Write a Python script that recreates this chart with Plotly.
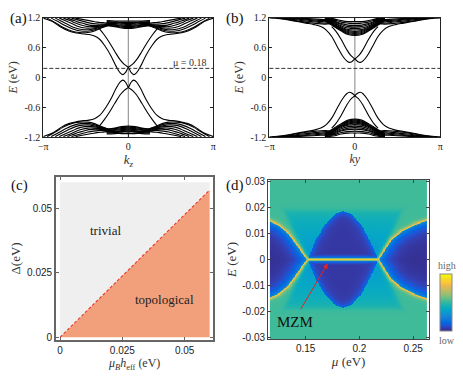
import numpy as np
import plotly.graph_objects as go

PI = float(np.pi)

# ---------------- panel (a): read band points (upper half; mirrored in k and E) -------------
A_BAND_K = [-1.10, -0.90, -0.70, -0.50, -0.30, -0.15, 0.00, 0.10, 0.20, 0.30, 0.45, 0.65,
            0.85, 1.05, 1.25, 1.45, 1.65, 1.90, 2.20, 2.50, 2.80, PI]
A_BAND_E = [1.00, 0.86, 0.70, 0.52, 0.35, 0.26, 0.20, 0.10, 0.055, 0.09, 0.22, 0.44,
            0.62, 0.76, 0.83, 0.86, 0.87, 0.89, 0.93, 1.01, 1.12, 1.19]
A_FAN_K = [
    [3.00, 2.70, 2.40, 2.10, 1.80, 1.50, 1.25, 1.00, 0.75],
    [2.85, 2.60, 2.30, 2.00, 1.75, 1.45, 1.20, 0.95, 0.70],
    [2.70, 2.45, 2.20, 1.95, 1.70, 1.40, 1.15, 0.90, 0.65],
    [2.55, 2.30, 2.05, 1.85, 1.60, 1.35, 1.10, 0.85, 0.60],
    [2.40, 2.15, 1.95, 1.75, 1.50, 1.30, 1.05, 0.80, 0.55],
    [2.25, 2.05, 1.85, 1.65, 1.45, 1.20, 1.00, 0.75, 0.50],
    [2.10, 1.90, 1.70, 1.50, 1.30, 1.10, 0.90, 0.70, 0.45],
    [1.95, 1.75, 1.55, 1.35, 1.15, 0.95, 0.75, 0.55, 0.40],
]
A_FAN_E = [
    [1.19, 1.10, 1.00, 0.93, 0.90, 0.90, 0.93, 0.99, 1.04],
    [1.19, 1.12, 1.03, 0.96, 0.93, 0.93, 0.96, 1.01, 1.05],
    [1.19, 1.12, 1.05, 0.99, 0.96, 0.96, 0.99, 1.03, 1.06],
    [1.19, 1.13, 1.07, 1.02, 0.99, 0.99, 1.01, 1.04, 1.07],
    [1.19, 1.14, 1.09, 1.05, 1.02, 1.02, 1.03, 1.06, 1.08],
    [1.19, 1.15, 1.11, 1.08, 1.05, 1.04, 1.05, 1.07, 1.09],
    [1.19, 1.16, 1.13, 1.10, 1.08, 1.07, 1.07, 1.08, 1.10],
    [1.19, 1.17, 1.15, 1.13, 1.11, 1.10, 1.09, 1.10, 1.11],
]
A_DENSE_K = [0.0, 0.25, 0.50, 0.80]
A_DENSE_E = [
    [0.98, 0.99, 1.02, 1.04],
    [1.00, 1.01, 1.03, 1.05],
    [1.02, 1.03, 1.05, 1.07],
    [1.04, 1.05, 1.06, 1.08],
    [1.06, 1.07, 1.08, 1.09],
    [1.08, 1.09, 1.09, 1.10],
    [1.10, 1.10, 1.11, 1.12],
    [1.13, 1.13, 1.13, 1.14],
]
MU_LINE = 0.18

# ---------------- panel (b) -------------
B_BAND_K = [-0.85, -0.70, -0.50, -0.30, -0.15, 0.00, 0.10, 0.20, 0.30, 0.45, 0.65, 0.85,
            1.05, 1.25, 1.50, 1.80, 2.20, 2.60, 3.00, PI]
B_BAND_E = [1.02, 0.93, 0.76, 0.56, 0.44, 0.37, 0.32, 0.30, 0.33, 0.43, 0.62, 0.82,
            0.95, 1.02, 1.06, 1.09, 1.13, 1.17, 1.19, 1.195]
B_FAN_K = [
    [2.90, 2.50, 2.10, 1.70, 1.40, 1.10, 0.85],
    [2.75, 2.35, 1.95, 1.60, 1.30, 1.05, 0.80],
    [2.60, 2.20, 1.85, 1.50, 1.20, 0.95, 0.75],
    [2.45, 2.05, 1.70, 1.40, 1.10, 0.90, 0.70],
    [2.30, 1.90, 1.55, 1.25, 1.00, 0.80, 0.65],
]
B_FAN_E = [
    [1.195, 1.17, 1.13, 1.10, 1.08, 1.07, 1.08],
    [1.195, 1.17, 1.14, 1.12, 1.10, 1.09, 1.10],
    [1.195, 1.175, 1.155, 1.135, 1.12, 1.11, 1.12],
    [1.195, 1.18, 1.165, 1.15, 1.14, 1.13, 1.14],
    [1.195, 1.185, 1.175, 1.165, 1.155, 1.15, 1.16],
]
B_BUBBLE_K = [0.0, 0.25, 0.50, 0.80, 1.10]
B_BUBBLE_E = [
    [0.84, 0.86, 0.93, 1.03, 1.14],
    [0.86, 0.88, 0.945, 1.045, 1.145],
    [0.88, 0.90, 0.96, 1.06, 1.15],
    [0.90, 0.92, 0.975, 1.07, 1.155],
    [0.92, 0.94, 0.99, 1.08, 1.16],
    [0.95, 0.96, 1.01, 1.095, 1.165],
    [0.98, 0.99, 1.035, 1.11, 1.17],
    [1.01, 1.02, 1.06, 1.125, 1.18],
    [1.04, 1.05, 1.08, 1.14, 1.185],
    [1.08, 1.09, 1.11, 1.16, 1.19],
    [1.12, 1.12, 1.14, 1.18, 1.195],
]

# ---------------- panel (c) -------------
PHASE_H = [0.0, 0.06]
PHASE_D_TOP = 0.06
BOUNDARY_D = [0.0, 0.057]

# ---------------- panel (d) read boundaries -------------
EDGE_L_MU = [0.117, 0.125, 0.134, 0.142, 0.148, 0.152]
EDGE_L_E = [0.0148, 0.0133, 0.0102, 0.0058, 0.0021, 0.0]
EDGE_R_MU = [0.218, 0.224, 0.230, 0.239, 0.252, 0.263]
EDGE_R_E = [0.0, 0.0040, 0.0077, 0.0108, 0.0135, 0.0151]
DOME_MU = [0.152, 0.159, 0.168, 0.1775, 0.185, 0.193, 0.202, 0.211, 0.218]
DOME_E = [0.0, 0.0071, 0.0133, 0.0174, 0.0185, 0.0174, 0.0133, 0.0064, 0.0]
MZM_MU = [0.152, 0.218]
SHELF_E = 0.019
SHELF_MU = [0.130, 0.240]
MU_RANGE = [0.117, 0.263]
E_RANGE = [-0.0304, 0.0304]

SERIF = "Liberation Serif, Times New Roman, serif"
SANS = "Liberation Sans, Arial, sans-serif"

fig = go.Figure()


def add_curve(k, e, xa, ya):
    fig.add_trace(go.Scatter(x=k, y=e, mode="lines", xaxis=xa, yaxis=ya,
                             line=dict(color="black", width=1.1, shape="spline", smoothing=1.0),
                             hoverinfo="skip", showlegend=False))


def add_mirrored(k, e, xa, ya, sym=False):
    k = np.asarray(k, float)
    e = np.asarray(e, float)
    if sym:
        kk = np.concatenate([-k[::-1], k[1:]])
        ee = np.concatenate([e[::-1], e[1:]])
        for s in (1, -1):
            add_curve(kk, s * ee, xa, ya)
    else:
        for sk in (1, -1):
            for se in (1, -1):
                add_curve(sk * k, se * e, xa, ya)


# panel a
add_mirrored(A_BAND_K, A_BAND_E, "x", "y")
for kf, ef in zip(A_FAN_K, A_FAN_E):
    add_mirrored(kf, ef, "x", "y")
for ed in A_DENSE_E:
    add_mirrored(A_DENSE_K, ed, "x", "y", sym=True)
# panel b
add_mirrored(B_BAND_K, B_BAND_E, "x2", "y2")
for kf, ef in zip(B_FAN_K, B_FAN_E):
    add_mirrored(kf, ef, "x2", "y2")
for eb in B_BUBBLE_E:
    add_mirrored(B_BUBBLE_K, eb, "x2", "y2", sym=True)

# panel c fills
fig.add_trace(go.Scatter(x=[PHASE_H[0], PHASE_H[0], PHASE_H[1], PHASE_H[1], PHASE_H[0]],
                         y=[BOUNDARY_D[0], PHASE_D_TOP, PHASE_D_TOP, BOUNDARY_D[1], BOUNDARY_D[0]],
                         fill="toself", fillcolor="#efefef", line=dict(width=0),
                         mode="lines", xaxis="x3", yaxis="y3", hoverinfo="skip", showlegend=False))
fig.add_trace(go.Scatter(x=[PHASE_H[0], PHASE_H[1], PHASE_H[1], PHASE_H[0]],
                         y=[BOUNDARY_D[0], BOUNDARY_D[1], 0.0, BOUNDARY_D[0]],
                         fill="toself", fillcolor="#f2a07c", line=dict(width=0),
                         mode="lines", xaxis="x3", yaxis="y3", hoverinfo="skip", showlegend=False))
fig.add_trace(go.Scatter(x=PHASE_H, y=BOUNDARY_D, mode="lines", xaxis="x3", yaxis="y3",
                         line=dict(color="#e8382a", width=1.1, dash="3px,2px"),
                         hoverinfo="skip", showlegend=False))

# panel d heatmap
PXU_MU = 1090.0
PXU_E = 2683.0
nx, ny = 260, 300
mu = np.linspace(MU_RANGE[0], MU_RANGE[1], nx)
en = np.linspace(E_RANGE[0], E_RANGE[1], ny)
M, E = np.meshgrid(mu, en)
AE = np.abs(E)


def curve_dist(cm, ce):
    cmu = np.linspace(min(cm), max(cm), 300)
    order = np.argsort(cm)
    cen = np.interp(cmu, np.asarray(cm)[order], np.asarray(ce)[order])
    px = cmu * PXU_MU
    py = cen * PXU_E
    X = (M * PXU_MU)[..., None]
    Y = (AE * PXU_E)[..., None]
    return np.sqrt((X - px) ** 2 + (Y - py) ** 2).min(axis=-1)


eL = np.interp(M, EDGE_L_MU, EDGE_L_E)
eR = np.interp(M, EDGE_R_MU, EDGE_R_E)
eD = np.interp(M, DOME_MU, DOME_E)
inL = (M < EDGE_L_MU[-1]) & (AE < eL)
inR = (M > EDGE_R_MU[0]) & (AE < eR)
inGap = inL | inR
dEdge = np.minimum(curve_dist(EDGE_L_MU, EDGE_L_E), curve_dist(EDGE_R_MU, EDGE_R_E))
inDome = (M > DOME_MU[0]) & (M < DOME_MU[-1]) & (AE < eD)
dDome = curve_dist(DOME_MU, DOME_E)

Z = np.full(M.shape, 0.52)
# soft shelf region (slightly bluer), strongest near E = 0
muL = EDGE_L_MU[-1] - (EDGE_L_MU[-1] - SHELF_MU[0]) * AE / SHELF_E
muR = EDGE_R_MU[0] + (SHELF_MU[1] - EDGE_R_MU[0]) * AE / SHELF_E
sx = np.minimum((M - muL) * PXU_MU, (muR - M) * PXU_MU)
sy = (SHELF_E - AE) * PXU_E
soft = 1 / (1 + np.exp(-np.minimum(sx, sy) / 1.5))
depth = 0.46 - 0.16 * (1 - np.clip(AE / SHELF_E, 0, 1))
Z = Z + (depth - Z) * soft
# outside-gap glow near edge
Z = np.where(~inGap, Z + (0.86 - Z) * np.exp(-dEdge / 1.4), Z)
# gap interiors
gapz = 0.015 + 0.26 * np.exp(-dEdge / 7.0)
gapz = np.maximum(gapz, 0.86 * np.exp(-(dEdge / 1.1) ** 2))
Z = np.where(inGap, gapz, Z)
# dome
domez = 0.035 + 0.12 * np.exp(-dDome / 3.5)
Z = np.where(inDome, domez, Z)
# MZM line
inM = (M >= MZM_MU[0]) & (M <= MZM_MU[1])
dpx = AE * PXU_E
mz = np.maximum(0.40 * np.exp(-dpx / 2.5), 0.9 * np.exp(-(dpx / 1.3) ** 2))
Z = np.where(inM, np.maximum(Z, mz), Z)
Z = np.round(Z, 3)

PARULA = [
    [0.2081, 0.1663, 0.5292], [0.2081, 0.2386, 0.6771], [0.1253, 0.3242, 0.8303],
    [0.0060, 0.4086, 0.8828], [0.0498, 0.4586, 0.8641], [0.0779, 0.5040, 0.8384],
    [0.0641, 0.5570, 0.8240], [0.0265, 0.6137, 0.8135], [0.0228, 0.6535, 0.7768],
    [0.0590, 0.6838, 0.7254], [0.1453, 0.7098, 0.6646], [0.2586, 0.7317, 0.5954],
    [0.3953, 0.7459, 0.5244], [0.5300, 0.7491, 0.4661], [0.6473, 0.7456, 0.4188],
    [0.7525, 0.7384, 0.3768], [0.8507, 0.7299, 0.3360], [0.9450, 0.7261, 0.2886],
    [0.9955, 0.7861, 0.1967], [0.9697, 0.8481, 0.1475], [0.9598, 0.9218, 0.0948],
    [0.9763, 0.9831, 0.0538],
]
cs = [[i / (len(PARULA) - 1), "rgb(%d,%d,%d)" % tuple(int(round(c * 255)) for c in p)]
      for i, p in enumerate(PARULA)]

W, H = 463, 380
fig.add_trace(go.Heatmap(x=mu, y=en, z=Z, colorscale=cs, zmin=0, zmax=1, xaxis="x4", yaxis="y4",
                         hoverinfo="skip",
                         colorbar=dict(x=443 / W, xanchor="left", xpad=0, ypad=0,
                                       y=1 - 306.5 / H, yanchor="middle",
                                       len=59 / H, lenmode="fraction", thickness=12,
                                       outlinewidth=1, outlinecolor="#888", showticklabels=False,
                                       ticks="")))


def dx(a, b):
    return [a / W, b / W]


def dy(top, bot):
    return [1 - bot / H, 1 - top / H]


frame = dict(showline=True, linecolor="#222", linewidth=1, mirror="ticks", ticks="inside",
             ticklen=3, tickcolor="#222", showgrid=False, zeroline=False)
band_x = dict(frame, range=[-PI, PI], tickvals=[-PI, 0, PI], ticktext=["\u2212\u03c0", "0", "\u03c0"],
              tickfont=dict(family=SERIF, size=10, color="#222"))
band_y = dict(frame, range=[-1.2, 1.2], tickvals=[-1.2, -0.6, 0, 0.6, 1.2],
              ticktext=["-1.2", "-0.6", "0", "0.6", "1.2"],
              tickfont=dict(family=SERIF, size=10, color="#222"),
              title=dict(text="<i>E</i> (eV)", font=dict(family=SERIF, size=12, color="#333"), standoff=4))

fig.update_layout(
    width=W, height=H, margin=dict(l=0, r=0, t=0, b=0),
    paper_bgcolor="white", plot_bgcolor="white", showlegend=False,
    font=dict(family=SERIF),
    xaxis=dict(band_x, domain=dx(39, 212), anchor="y",
               title=dict(text="<i>k<sub>z</sub></i>", font=dict(family=SERIF, size=13, color="#333"), standoff=2)),
    yaxis=dict(band_y, domain=dy(13, 136), anchor="x"),
    xaxis2=dict(band_x, domain=dx(269, 443), anchor="y2",
                title=dict(text="<i>ky</i>", font=dict(family=SERIF, size=12, color="#333"), standoff=2)),
    yaxis2=dict(band_y, domain=dy(13, 136), anchor="x2"),
    xaxis3=dict(frame, domain=dx(52, 212), anchor="y3", range=[-0.0016, 0.0615],
                linecolor="#666", linewidth=2, tickcolor="#666",
                tickvals=[0, 0.025, 0.05], ticktext=["0", "0.025", "0.05"],
                tickfont=dict(family=SANS, size=10, color="#222"),
                title=dict(text="<i>\u03bc<sub>B</sub>h</i><sub>eff</sub> (eV)",
                           font=dict(family=SERIF, size=12, color="#333"), standoff=3)),
    yaxis3=dict(frame, domain=dy(177, 345), anchor="x3", range=[-0.0011, 0.0621],
                linecolor="#666", linewidth=2, tickcolor="#666",
                tickvals=[0, 0.025, 0.05], ticktext=["0", "0.025", "0.05"],
                tickfont=dict(family=SANS, size=10, color="#222"),
                title=dict(text="\u0394(eV)", font=dict(family=SERIF, size=13, color="#333"), standoff=4)),
    xaxis4=dict(frame, domain=dx(267.7, 431.7), anchor="y4", range=[0.115, 0.265],
                linecolor="#444", tickcolor="#444",
                tickvals=[0.15, 0.2, 0.25], ticktext=["0.15", "0.2", "0.25"],
                tickfont=dict(family=SANS, size=10, color="#222"),
                title=dict(text="<i>\u03bc</i> (eV)", font=dict(family=SERIF, size=13, color="#333"), standoff=3)),
    yaxis4=dict(frame, domain=dy(180, 344), anchor="x4", range=[-0.0306, 0.0306],
                linecolor="#444", tickcolor="#444",
                tickvals=[-0.03, -0.02, -0.01, 0, 0.01, 0.02, 0.03],
                ticktext=["-0.03", "-0.02", "-0.01", "0", "0.01", "0.02", "0.03"],
                tickfont=dict(family=SANS, size=10, color="#222"),
                title=dict(text="<i>E</i> (eV)", font=dict(family=SERIF, size=13, color="#333"), standoff=2)),
)

# reference lines in (a) and (b)
for xr, yr in (("x", "y"), ("x2", "y2")):
    fig.add_shape(type="line", xref=xr, yref=yr + " domain", x0=0, x1=0, y0=0, y1=1,
                  line=dict(color="#9a9a9a", width=1.2), layer="below")
    fig.add_shape(type="line", xref=xr + " domain", yref=yr, x0=0, x1=1, y0=MU_LINE, y1=MU_LINE,
                  line=dict(color="#333", width=1, dash="4px,2px"))

ann = []
for txt, px, py in (("(a)", 14, 14), ("(b)", 234, 14), ("(c)", 15, 186), ("(d)", 234, 186)):
    ann.append(dict(text=txt, x=px / W, y=1 - py / H, xref="paper", yref="paper", showarrow=False,
                    font=dict(family=SERIF, size=15, color="#111"), xanchor="center", yanchor="middle"))
ann.append(dict(text="\u03bc = 0.18", x=2.27, y=0.29, xref="x", yref="y", showarrow=False,
                font=dict(family=SERIF, size=10, color="#333")))
ann.append(dict(text="trivial", x=0.0181, y=0.0415, xref="x3", yref="y3", showarrow=False,
                font=dict(family=SERIF, size=13, color="#222")))
ann.append(dict(text="topological", x=0.0417, y=0.0146, xref="x3", yref="y3", showarrow=False,
                font=dict(family=SERIF, size=13, color="#222")))
ann.append(dict(text="MZM", x=0.1403, y=-0.0241, xref="x4", yref="y4", showarrow=False,
                font=dict(family=SERIF, size=15, color="#111")))
ann.append(dict(text="", x=0.1705, y=-0.0016, xref="x4", yref="y4", ax=0.1447, ay=-0.0196,
                axref="x4", ayref="y4", showarrow=True, arrowhead=2, arrowsize=1, arrowwidth=1,
                arrowcolor="#e8221c"))
ann.append(dict(text="high", x=449.5 / W, y=1 - 268 / H, xref="paper", yref="paper", showarrow=False,
                xanchor="center", yanchor="middle",
                font=dict(family=SERIF, size=10, color="#666")))
ann.append(dict(text="low", x=449.5 / W, y=1 - 345 / H, xref="paper", yref="paper", showarrow=False,
                xanchor="center", yanchor="middle",
                font=dict(family=SERIF, size=10, color="#666")))
fig.update_layout(annotations=ann)

fig.write_html("out.html", config={"displayModeBar": False, "staticPlot": True},
               post_script="document.body.style.margin='0';document.body.style.overflow='hidden';")
